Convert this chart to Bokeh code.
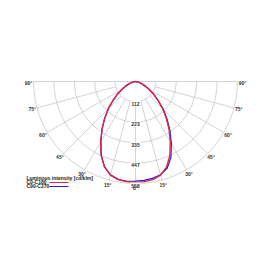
import numpy as np
from bokeh.plotting import figure
from bokeh.models import Range1d
from bokeh.core.properties import value
from bokeh.embed import file_html
from bokeh.resources import INLINE

# ---- data ----
angles = [0, 5, 10, 15, 20, 25, 30, 35, 40, 45, 50, 55, 60, 65, 70, 75, 80, 85, 90]
c0 = [552, 550, 545, 530, 497, 445, 380, 320, 262, 210, 160, 122, 87, 60, 38, 20, 9, 3, 0]
c180 = [552, 550, 545, 530, 497, 445, 380, 320, 262, 210, 160, 122, 87, 60, 38, 20, 9, 3, 0]
c90 = [545, 543, 538, 528, 505, 458, 392, 328, 268, 214, 162, 122, 87, 60, 38, 20, 9, 3, 0]
c270 = [545, 548, 544, 529, 496, 444, 379, 320, 262, 210, 160, 122, 87, 60, 38, 20, 9, 3, 0]
ring_values = [111.6, 223.2, 334.8, 446.4, 558.0]
ring_labels = ["112", "223", "335", "447", "558"]
grid_angles = [-90, -75, -60, -45, -30, -15, 0, 15, 30, 45, 60, 75, 90]
angle_labels = ["90°", "75°", "60°", "45°", "30°", "15°", "0°", "15°", "30°", "45°", "60°", "75°", "90°"]
series_names = ["C0-C180", "C90-C270"]
legend_title = "Luminous intensity [cd/klm]"

W = H = 270
rmax = ring_values[-1]
s = 102.0 / rmax          # px per cd
cx, cy = 135.0, 81.0      # centre in px


def X(px):
    return (px - cx) / s


def Y(py):
    return (cy - py) / s


p = figure(width=W, height=H, output_backend="svg", toolbar_location=None,
           x_range=Range1d(X(0), X(W)), y_range=Range1d(Y(H), Y(0)),
           x_axis_location=None, y_axis_location=None, min_border=0,
           match_aspect=False)
p.outline_line_color = None
p.grid.visible = False
p.background_fill_color = "white"

grid_col = "#c8c8c8"
# rings (lower half)
p.arc(x=[0] * len(ring_values), y=[0] * len(ring_values), radius=ring_values,
      start_angle=np.pi, end_angle=2 * np.pi, line_color=grid_col, line_width=0.8)
# radial lines
x0s, y0s, x1s, y1s = [], [], [], []
for a in grid_angles:
    t = np.radians(a)
    r0 = 0 if abs(a) == 90 else ring_values[0]
    x0s.append(r0 * np.sin(t)); y0s.append(-r0 * np.cos(t))
    x1s.append(rmax * np.sin(t)); y1s.append(-rmax * np.cos(t))
p.segment(x0s, y0s, x1s, y1s, line_color=grid_col, line_width=0.8)


def curve(right, left):
    th = np.radians(np.array(angles, dtype=float))
    rl = np.array(left, dtype=float)
    rr = np.array(right, dtype=float)
    xs = list(-(rl * np.sin(th))[::-1]) + list((rr * np.sin(th))[1:])
    ys = list(-(rl * np.cos(th))[::-1]) + list(-(rr * np.cos(th))[1:])
    return xs, ys


bx, by = curve(c90, c270)
rx, ry = curve(c0, c180)
p.line(bx, by, line_color="#1a1aff", line_width=1.3)
p.line(rx, ry, line_color="#ee2233", line_width=1.3)

font = value("Liberation Sans")
# ring labels
p.text(x=[0] * len(ring_values), y=[-(r + 11) for r in ring_values], text=ring_labels,
       text_font=font, text_font_size="5px", text_align="center", text_baseline="middle",
       text_color="#333333", text_font_style="bold",
       background_fill_color="white", padding=1)
# angle labels
rl_ = 585
p.text(x=[rl_ * np.sin(np.radians(a)) for a in grid_angles],
       y=[-rl_ * np.cos(np.radians(a)) - (8 if abs(a) == 90 else 0) for a in grid_angles],
       text=angle_labels, text_font=font, text_font_size="5px", text_align="center",
       text_baseline="middle", text_color="#333333", text_font_style="bold")

# legend
p.text(x=[X(26)], y=[Y(177)], text=[legend_title], text_font=font, text_font_size="5px",
       text_baseline="middle", text_color="#222222", text_font_style="bold")
p.text(x=[X(26), X(26)], y=[Y(181.5), Y(185.5)], text=series_names, text_font=font,
       text_font_size="5px", text_baseline="middle", text_color="#222222",
       text_font_style="bold")
p.segment([X(49), X(49)], [Y(182), Y(186)], [X(68), X(68)], [Y(182), Y(186)],
          line_color=["#ee2233", "#1a1aff"], line_width=1)

open("out.html", "w").write(file_html(p, INLINE))
